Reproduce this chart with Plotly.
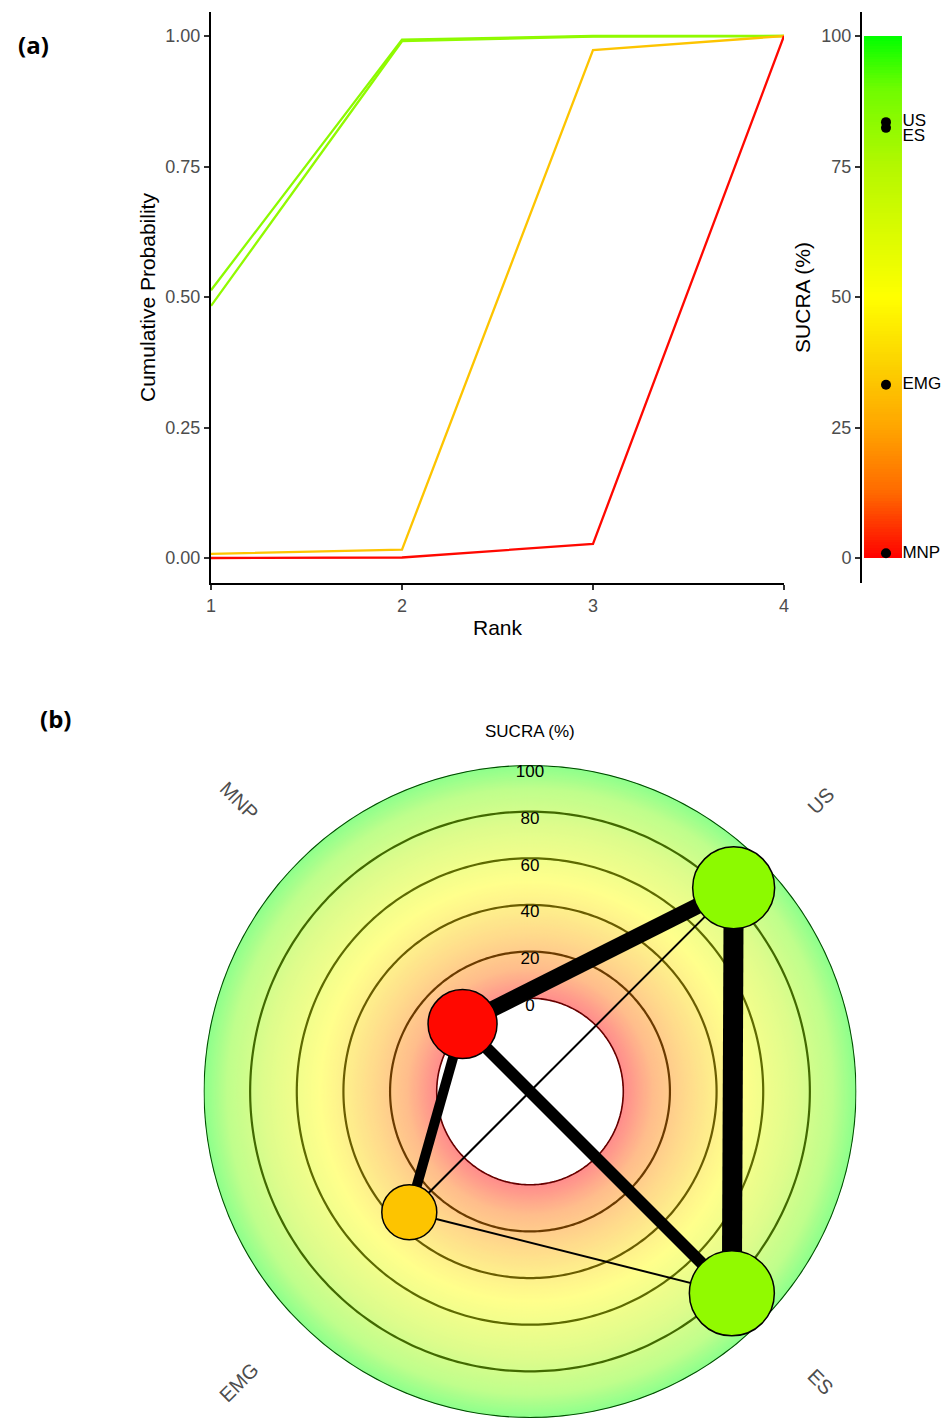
import numpy as np
import plotly.graph_objects as go
from plotly.colors import sample_colorscale

# ---------------- data ----------------
treatments = ["US", "ES", "EMG", "MNP"]
ranks = [1, 2, 3, 4]
cum_US = [0.513, 0.993, 1.000, 1.000]
cum_ES = [0.483, 0.990, 0.999, 1.000]
cum_EMG = [0.008, 0.016, 0.973, 1.000]
cum_MNP = [0.000, 0.001, 0.027, 1.000]
sucra = [83.5, 82.4, 33.2, 0.9]          # SUCRA (%) per treatment
node_n = [164, 170, 110, 138]            # node weight (participants)
edge_from = ["US", "MNP", "MNP", "MNP", "EMG", "EMG"]
edge_to = ["ES", "US", "ES", "EMG", "US", "ES"]
edge_studies = [10, 8, 6, 5, 1, 1]
sucra_ticks = [0, 25, 50, 75, 100]
ring_vals = [0, 20, 40, 60, 80, 100]

# ---------------- styling ----------------
W, H = 948, 1418
FONT = "Liberation Sans, Arial, sans-serif"
colorscale = [
    [0.0, "rgb(255,0,0)"],
    [0.125, "rgb(255,105,0)"],
    [0.25, "rgb(255,165,0)"],
    [0.375, "rgb(252,212,0)"],
    [0.5, "rgb(255,255,0)"],
    [0.75, "rgb(180,248,0)"],
    [0.9, "rgb(110,252,0)"],
    [1.0, "rgb(0,255,0)"],
]


def parse(c):
    return [float(v) for v in c[c.index("(") + 1:c.index(")")].split(",")]


def col(v):
    return sample_colorscale(colorscale, [max(0, min(1, v / 100))])[0]


def dark(v, k=0.4):
    r, g, b = parse(col(v))
    return f"rgb({r*k:.0f},{g*k:.0f},{b*k:.0f})"


pale_scale = []
for pos, c in colorscale:
    r, g, b = parse(c)
    a = 0.45
    pale_scale.append([pos, f"rgb({255-(255-r)*a:.0f},{255-(255-g)*a:.0f},{255-(255-b)*a:.0f})"])


def px_x(p):
    return p / W


def px_y(p):
    return 1 - p / H


fig = go.Figure()

# ---------------- panel (a): cumulative ranking curves ----------------
cums = {"US": cum_US, "ES": cum_ES, "EMG": cum_EMG, "MNP": cum_MNP}
for t, s in zip(treatments, sucra):
    fig.add_trace(go.Scatter(x=ranks, y=cums[t], mode="lines", name=t,
                             line=dict(color=col(s), width=2.3),
                             xaxis="x", yaxis="y", showlegend=False,
                             hoverinfo="skip"))

# colour bar panel (gradient strip drawn as a heatmap)
edges_y = np.linspace(0, 100, 201)
centers = (edges_y[:-1] + edges_y[1:]) / 2
fig.add_trace(go.Heatmap(x=[0.023, 0.465], y=edges_y, z=[[v] for v in centers],
                         colorscale=colorscale, zmin=0, zmax=100, showscale=False,
                         xaxis="x2", yaxis="y2", hoverinfo="skip"))
fig.add_trace(go.Scatter(x=[0.279] * len(sucra), y=sucra, mode="markers",
                         marker=dict(color="black", size=10),
                         xaxis="x2", yaxis="y2", showlegend=False, hoverinfo="skip"))
fig.add_trace(go.Scatter(x=[0.47] * len(sucra),
                         y=sucra, mode="text", text=treatments,
                         textposition=["middle right", "bottom right", "middle right", "middle right"],
                         textfont=dict(size=17, color="black", family=FONT),
                         cliponaxis=False,
                         xaxis="x2", yaxis="y2", showlegend=False, hoverinfo="skip"))

# ---------------- panel (b): radial SUCRA network ----------------
ang = {t: 45 - 90 * i for i, t in enumerate(treatments)}
sval = dict(zip(treatments, sucra))

# background gradient (concentric filled discs, outer first)
n_band = 200
outer = np.linspace(100, 100 / n_band, n_band)
fig.add_trace(go.Barpolar(r=outer, base=[0] * n_band, theta=[0] * n_band,
                          width=[360] * n_band,
                          marker=dict(color=outer - 100 / n_band / 2, colorscale=pale_scale,
                                      cmin=0, cmax=100, line=dict(width=0)),
                          showlegend=False, hoverinfo="skip", subplot="polar"))

# rings
th = np.linspace(0, 360, 361)
for v in ring_vals:
    if v == 100:
        c, w = dark(v, 0.3), 2.2
    elif v == 0:
        c, w = dark(v, 0.4), 1.6
    else:
        c, w = dark(v, 0.42), 2.2
    fig.add_trace(go.Scatterpolar(r=[v] * len(th), theta=th, mode="lines",
                                  line=dict(color=c, width=w),
                                  showlegend=False, hoverinfo="skip", subplot="polar"))

# ring labels
fig.add_trace(go.Scatterpolar(r=[v - 3.5 for v in ring_vals], theta=[90] * len(ring_vals),
                              mode="text", text=[str(v) for v in ring_vals],
                              textfont=dict(size=17, color="black", family=FONT),
                              showlegend=False, hoverinfo="skip", subplot="polar"))

# edges
for a, b, n in zip(edge_from, edge_to, edge_studies):
    fig.add_trace(go.Scatterpolar(r=[sval[a], sval[b]], theta=[ang[a], ang[b]],
                                  mode="lines", line=dict(color="black", width=2 * n),
                                  showlegend=False, hoverinfo="skip", subplot="polar"))

# nodes
fig.add_trace(go.Scatterpolar(r=sucra, theta=[ang[t] for t in treatments], mode="markers",
                              marker=dict(size=[n / 2 for n in node_n],
                                          color=[col(s) for s in sucra],
                                          line=dict(color="black", width=1.5),
                                          opacity=1),
                              cliponaxis=False,
                              showlegend=False, hoverinfo="skip", subplot="polar"))

# ---------------- layout ----------------
ya_dom = [px_y(583), px_y(12)]
y_lo = 0 - (583 - 558) / 522
y_hi = 1 + (36 - 12) / 522

axis_common = dict(showline=True, linecolor="black", linewidth=2, ticks="outside",
                   ticklen=5, tickwidth=1.5, tickcolor="#333333", showgrid=False,
                   zeroline=False, automargin=False,
                   tickfont=dict(size=18, color="#4D4D4D", family=FONT))

polar_top = 765
fig.update_layout(
    width=W, height=H, margin=dict(l=0, r=0, t=0, b=0, pad=0, autoexpand=False),
    paper_bgcolor="white", plot_bgcolor="white",
    font=dict(family=FONT),
    showlegend=False,
    xaxis=dict(domain=[px_x(211), px_x(784)], range=[1, 4], tickvals=ranks, anchor="y",
               title=dict(text="Rank", font=dict(size=21, color="black"), standoff=6),
               **axis_common),
    yaxis=dict(domain=ya_dom, range=[y_lo, y_hi], tickvals=[0, 0.25, 0.5, 0.75, 1],
               tickformat=".2f", anchor="x",
               title=dict(text="Cumulative Probability", font=dict(size=21, color="black"), standoff=4),
               **axis_common),
    xaxis2=dict(domain=[px_x(862), 1.0], range=[0, 1], visible=False, anchor="y2",
                automargin=False),
    yaxis2=dict(domain=ya_dom, range=[-(583 - 558) / 5.22, 100 + (36 - 12) / 5.22],
                tickvals=sucra_ticks, anchor="x2",
                title=dict(text="SUCRA (%)", font=dict(size=21, color="black"), standoff=5),
                **axis_common),
    polar=dict(
        domain=dict(x=[px_x(530 - 329), px_x(530 + 329)], y=[0, px_y(polar_top)]),
        bgcolor="white", barmode="overlay",
        radialaxis=dict(range=[-40, 100], showline=False, showticklabels=False,
                        showgrid=False, ticks=""),
        angularaxis=dict(type="linear", thetaunit="degrees", rotation=0,
                         direction="counterclockwise", showline=False,
                         showticklabels=False, showgrid=False, ticks=""),
    ),
)

ann_common = dict(xref="paper", yref="paper", showarrow=False, xanchor="center", yanchor="middle")

# panel tags and titles
fig.add_annotation(x=px_x(33), y=px_y(45), text="<b>(a)</b>",
                   font=dict(size=24, color="black", family="Open Sans"), **ann_common)
fig.add_annotation(x=px_x(55), y=px_y(718), text="<b>(b)</b>",
                   font=dict(size=24, color="black", family="Open Sans"), **ann_common)
fig.add_annotation(x=px_x(530), y=px_y(731), text="SUCRA (%)",
                   font=dict(size=17, color="black", family=FONT), **ann_common)

# treatment labels around the circle (radial orientation)
cx, cy = 530, polar_top + (H - polar_top) / 2
R_lab = 411
for t in treatments:
    a = ang[t] % 360
    lx = cx + R_lab * np.cos(np.radians(a))
    ly = cy - R_lab * np.sin(np.radians(a))
    rel = a if a <= 90 or a >= 270 else a - 180
    fig.add_annotation(x=px_x(lx), y=px_y(ly), text=t,
                       textangle=-rel if rel < 180 else -(rel - 360),
                       font=dict(size=20, color="#4D4D4D", family=FONT), **ann_common)

fig.write_html("out.html", config={"displayModeBar": False},
               post_script="document.body.style.margin='0px';document.body.style.overflow='hidden';")
